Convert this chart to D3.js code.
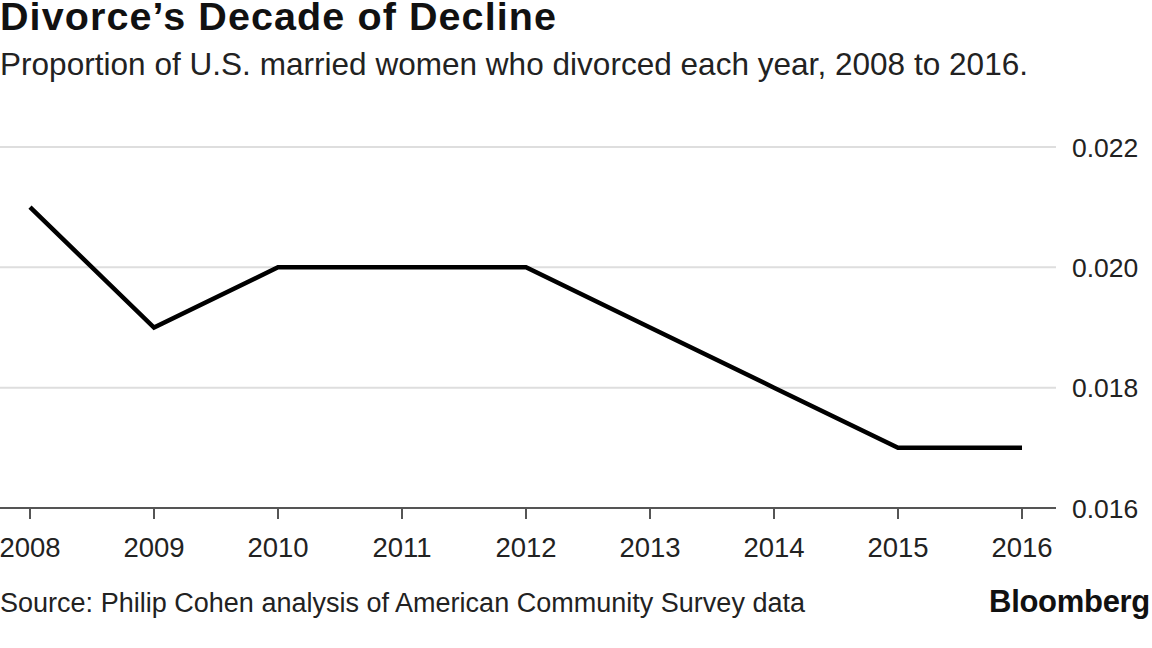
<!DOCTYPE html>
<html lang="en">
  <head>
    <meta charset="utf-8" />
    <title>Divorce's Decade of Decline</title>
    <script src="https://d3js.org/d3.v7.min.js"></script>
    <style>
      body { margin: 0; background: #fff; }
      svg { display: block; font-family: "Liberation Sans", Arial, sans-serif; }
      .axis text { fill: #222; }
    </style>
  </head>
  <body>
    <script>
      // data
      const years = [2008, 2009, 2010, 2011, 2012, 2013, 2014, 2015, 2016];
      const divorceRate = [0.021, 0.019, 0.020, 0.020, 0.020, 0.019, 0.018, 0.017, 0.017];
      const yTicks = [0.016, 0.018, 0.020, 0.022];

      const W = 1152, H = 648;
      const svg = d3.select("body").append("svg")
        .attr("width", W).attr("height", H);

      const x = d3.scaleLinear().domain([2008, 2016]).range([30, 1022]);
      const y = d3.scaleLinear().domain([0.016, 0.022]).range([508, 147]);

      // title + subtitle
      svg.append("text")
        .attr("x", 0).attr("y", 30)
        .attr("font-size", 39.5).attr("font-weight", "bold")
        .attr("fill", "#111")
        .attr("textLength", 556)
        .text("Divorce\u2019s Decade of Decline");
      svg.append("text")
        .attr("x", 0).attr("y", 75)
        .attr("font-size", 31.5)
        .attr("fill", "#222")
        .attr("textLength", 1028)
        .text("Proportion of U.S. married women who divorced each year, 2008 to 2016.");

      // y grid + labels on right
      const gY = svg.append("g").attr("class", "axis");
      gY.selectAll("line").data(yTicks.slice(1)).join("line")
        .attr("x1", 0).attr("x2", 1056)
        .attr("y1", d => y(d)).attr("y2", d => y(d))
        .attr("stroke", "#dedede").attr("stroke-width", 2);
      gY.selectAll("text").data(yTicks).join("text")
        .attr("x", 1072).attr("y", d => y(d))
        .attr("dy", "0.36em")
        .attr("font-size", 26.5)
        .text(d3.format(".3f"));

      // x axis
      const gX = svg.append("g").attr("class", "axis")
        .attr("transform", "translate(0,508)");
      gX.append("line")
        .attr("x1", 0).attr("x2", 1056)
        .attr("stroke", "#555").attr("stroke-width", 2);
      gX.selectAll(".tick").data(years).join("line")
        .attr("class", "tick")
        .attr("x1", d => x(d)).attr("x2", d => x(d))
        .attr("y1", 0).attr("y2", 11)
        .attr("stroke", "#555").attr("stroke-width", 2);
      gX.selectAll("text").data(years).join("text")
        .attr("x", d => x(d)).attr("y", 49)
        .attr("text-anchor", "middle")
        .attr("font-size", 27.5)
        .text(d => d);

      // the line
      const line = d3.line()
        .x((d, i) => x(years[i]))
        .y(d => y(d));
      svg.append("path")
        .datum(divorceRate)
        .attr("d", line)
        .attr("fill", "none")
        .attr("stroke", "#000")
        .attr("stroke-width", 4.5)
        .attr("stroke-linejoin", "miter");

      // footer
      svg.append("text")
        .attr("x", 0).attr("y", 612)
        .attr("font-size", 27)
        .attr("fill", "#222")
        .attr("textLength", 805)
        .text("Source: Philip Cohen analysis of American Community Survey data");
      svg.append("text")
        .attr("x", 1150).attr("y", 612)
        .attr("text-anchor", "end")
        .attr("font-size", 31).attr("font-weight", "bold")
        .attr("letter-spacing", -0.3)
        .attr("fill", "#111")
        .text("Bloomberg");
    </script>
  </body>
</html>
